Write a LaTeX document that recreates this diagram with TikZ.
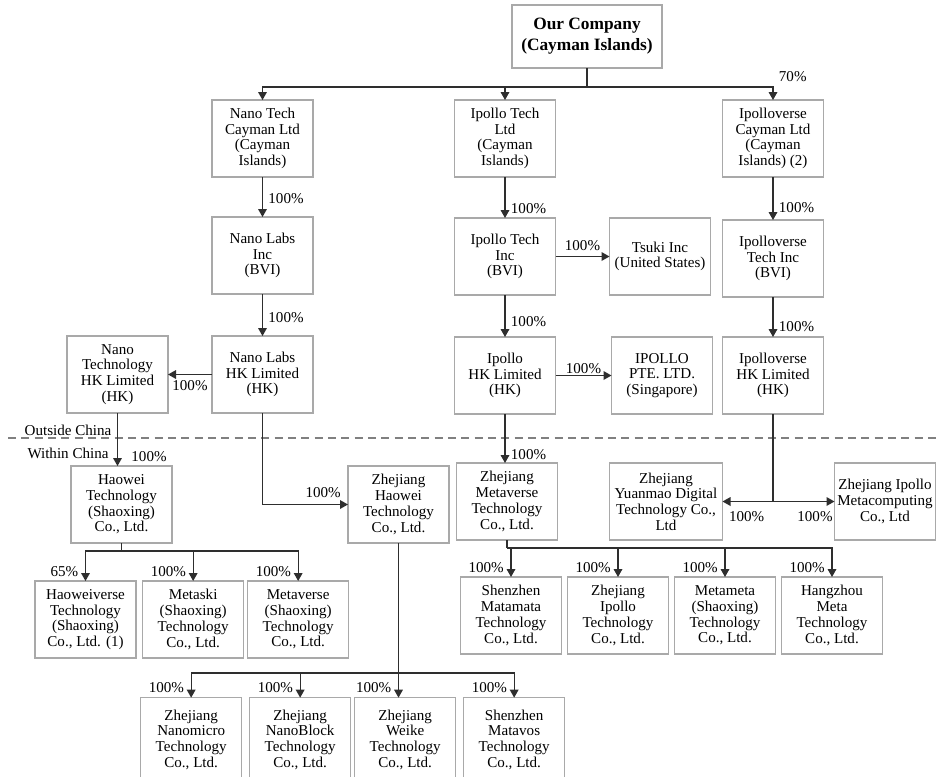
\documentclass[tikz,border=0pt]{standalone}
\usepackage{fontspec}
\setmainfont{Liberation Serif}
\usepackage{tikz}
\usetikzlibrary{positioning, arrows.meta}
\definecolor{boxgray}{HTML}{A9A9A9}
\definecolor{linkgray}{HTML}{2E2E2E}
\tikzset{
    firm/.style={rectangle, draw=boxgray, line width=0.9pt, minimum width=75.75pt, minimum height=57.75pt, inner sep=0pt, outer sep=0pt, align=center, font=\fontsize{11.3}{11.8}\selectfont},
    wfirm/.style={firm, minimum width=84.75pt},
    lfirm/.style={firm, minimum height=63pt},
    pct/.style={inner sep=1pt, font=\fontsize{11.3}{11.8}\selectfont},
    lbl/.style={pct, pos=1, anchor=south east, xshift=-4pt, yshift=2pt},
    link/.style={draw=linkgray, line width=0.9pt},
}

\begin{document}
\begin{tikzpicture}[x=0.75pt, y=-0.75pt, >={Triangle[length=6pt, width=6.5pt]}]
        \useasboundingbox[fill=white] (0,0) rectangle (936,776);
        \clip (0,0) rectangle (936,776);
        % top
        \node [firm, minimum width=112.5pt, minimum height=47.25pt, font=\bfseries\fontsize{13}{15.75}\selectfont] (top) at (587,36.5) {Our Company\\(Cayman Islands)};
        \node [firm] (nt) at (262.5,138.5) {Nano Tech\\Cayman Ltd\\(Cayman\\Islands)};
        \node [firm] (it) at (505,138.5) {Ipollo Tech\\Ltd\\(Cayman\\Islands)};
        \node [firm] (vc) at (773,138.5) {Ipolloverse\\Cayman Ltd\\(Cayman\\Islands) (2)};
        % outside china
        \node [firm] (nl) [below=30pt of nt] {Nano Labs\\Inc\\(BVI)};
        \node [firm] (ii) [below=30.75pt of it] {Ipollo Tech\\Inc\\(BVI)};
        \node [firm] (ts) [right=40.5pt of ii] {Tsuki Inc\\(United States)};
        \node [firm] (vt) [below=32.25pt of vc] {Ipolloverse\\Tech Inc\\(BVI)};
        \node [firm] (nh) [below=31.5pt of nl] {Nano Labs\\HK Limited\\(HK)};
        \node [firm] (nth) [left=33pt of nh] {Nano\\Technology\\HK Limited\\(HK)};
        \node [firm] (ih) [below=31.5pt of ii] {Ipollo\\HK Limited\\(HK)};
        \node [firm] (ip) [right=42pt of ih] {IPOLLO\\PTE. LTD.\\(Singapore)};
        \node [firm] (vh) [below=30pt of vt] {Ipolloverse\\HK Limited\\(HK)};
        % within china
        \node [firm] (hw) [below=39.75pt of nth, xshift=3pt] {Haowei\\Technology\\(Shaoxing)\\Co., Ltd.};
        \node [firm] (zh) [right=132pt of hw] {Zhejiang\\Haowei\\Technology\\Co., Ltd.};
        \node [firm] (zm) [below=36.75pt of ih, xshift=1.5pt] {Zhejiang\\Metaverse\\Technology\\Co., Ltd.};
        \node [wfirm] (ym) [right=39pt of zm] {Zhejiang\\Yuanmao Digital\\Technology Co.,\\Ltd};
        \node [firm] (zi) [right=84pt of ym] {Zhejiang Ipollo\\Metacomputing\\Co., Ltd};
        \node [firm] (hv) [below=28.5pt of hw, xshift=-27pt] {Haoweiverse\\Technology\\(Shaoxing)\\Co., Ltd. (1)};
        \node [firm] (ms) [right=5pt of hv] {Metaski\\(Shaoxing)\\Technology\\Co., Ltd.};
        \node [firm] (mv) [right=3pt of ms] {Metaverse\\(Shaoxing)\\Technology\\Co., Ltd.};
        \node [firm] (mm) [below=27.75pt of zm, xshift=3pt] {Shenzhen\\Matamata\\Technology\\Co., Ltd.};
        \node [firm] (zp) [right=4.5pt of mm] {Zhejiang\\Ipollo\\Technology\\Co., Ltd.};
        \node [firm] (mt) [right=4.5pt of zp] {Metameta\\(Shaoxing)\\Technology\\Co., Ltd.};
        \node [firm] (hz) [right=4.5pt of mt] {Hangzhou\\Meta\\Technology\\Co., Ltd.};
        \node [lfirm] (wk) [below=116pt of zh, xshift=5pt] {Zhejiang\\Weike\\Technology\\Co., Ltd.};
        \node [lfirm] (nb) [left=3pt of wk] {Zhejiang\\NanoBlock\\Technology\\Co., Ltd.};
        \node [lfirm] (nm) [left=6pt of nb] {Zhejiang\\Nanomicro\\Technology\\Co., Ltd.};
        \node [lfirm] (mz) [right=6pt of wk] {Shenzhen\\Matavos\\Technology\\Co., Ltd.};
        % border line
        \draw [draw=gray, line width=0.9pt, dash pattern=on 6pt off 4pt] (8,438) -- (936,438);
        \node [pct] (out) at (68,430) {Outside China};
        \node [pct] (in) at (68,453) {Within China};
        % links
        \draw [link] (top.south) -- ++(0,19) coordinate (tb);
        \draw [link, ->] (tb) -| (nt.north);
        \draw [link, ->] (tb) -| (it.north);
        \draw [link, ->] (tb) -| (vc.north) node [pct, pos=1, anchor=south west, xshift=3pt, yshift=12pt] {70\%};
        \draw [link, ->] (nt) -- (nl) node [pct, right, pos=0.55, xshift=3pt] {100\%};
        \draw [link, ->] (it) -- (ii) node [pct, right, pos=0.76, xshift=3pt] {100\%};
        \draw [link, ->] (vc) -- (vt) node [pct, right, pos=0.72, xshift=3pt] {100\%};
        \draw [link, ->] (nl) -- (nh) node [pct, right, pos=0.55, xshift=3pt] {100\%};
        \draw [link, ->] (ii) -- (ih) node [pct, right, pos=0.64, xshift=3pt] {100\%};
        \draw [link, ->] (vt) -- (vh) node [pct, right, pos=0.75, xshift=3pt] {100\%};
        \draw [link, ->] (ii) -- (ts) node [pct, above, midway, yshift=3pt] {100\%};
        \draw [link, ->] (ih) -- (ip) node [pct, above, midway] {100\%};
        \draw [link, ->] (nh) -- (nth) node [pct, below, midway, yshift=-3pt] {100\%};
        \draw [link, ->] (nth.south) -- (nth.south |- hw.north) node [pct, right, pos=0.83, xshift=9pt] {100\%};
        \draw [link, ->] (nh.south) |- (zh.west) node [pct, pos=1, anchor=south east, xshift=-4pt, yshift=4pt] {100\%};
        \draw [link, ->] (ih.south) -- (ih.south |- zm.north) node [pct, right, pos=0.82, xshift=3pt] {100\%};
        \draw [link, ->] (vh.south) |- (ym.east) node [pct, pos=1, anchor=north west, xshift=3.5pt, yshift=-6pt] {100\%};
        \draw [link, ->] (vh.south) |- (zi.west) node [pct, pos=1, anchor=north east, yshift=-6pt] {100\%};
        \draw [link] (hw.south) -- ++(0,8) coordinate (hb);
        \draw [link, ->] (hb) -| (hv.north) node [lbl] {65\%};
        \draw [link, ->] (hb) -| (ms.north) node [lbl] {100\%};
        \draw [link, ->] (hb) -| (mv.north) node [lbl] {100\%};
        \draw [link] (zm.south) -- ++(0,8) coordinate (mb);
        \draw [link, ->] (mb) -| (mm.north) node [lbl] {100\%};
        \draw [link, ->] (mb) -| (zp.north) node [lbl] {100\%};
        \draw [link, ->] (mb) -| (mt.north) node [lbl] {100\%};
        \draw [link, ->] (mb) -| (hz.north) node [lbl] {100\%};
        \path (zh.south) ++(0,130) coordinate (zb);
        \draw [link, ->] (zh.south) -- (zh.south |- wk.north) node [lbl] {100\%};
        \draw [link, ->] (zb) -| (nm.north) node [lbl] {100\%};
        \draw [link, ->] (zb) -| (nb.north) node [lbl] {100\%};
        \draw [link, ->] (zb) -| (mz.north) node [lbl] {100\%};
    \end{tikzpicture}
\end{document}
